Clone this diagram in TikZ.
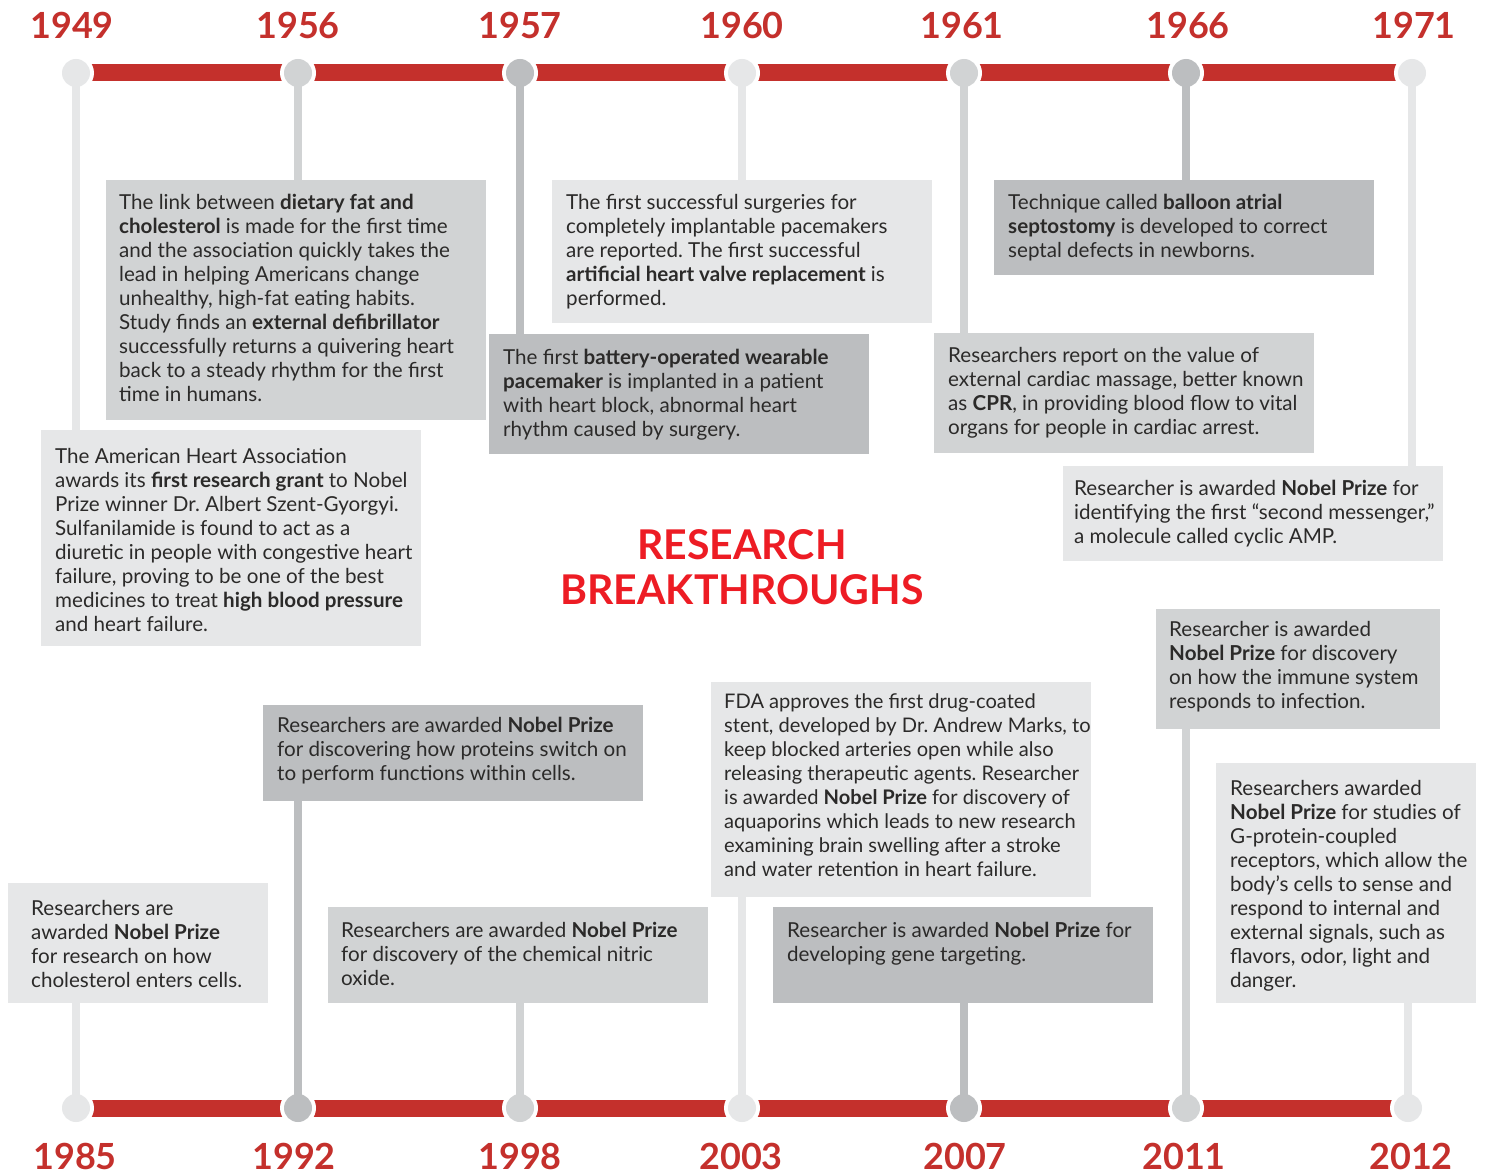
\documentclass[tikz,border=0pt]{standalone}
\usepackage{fontspec}
\setmainfont{Lato}
\frenchspacing
\definecolor{gA}{HTML}{E6E7E8}
\definecolor{gB}{HTML}{D1D3D4}
\definecolor{gC}{HTML}{BCBEC0}
\definecolor{barred}{HTML}{C4302C}
\definecolor{titlered}{HTML}{ED1C24}
\definecolor{ink}{HTML}{2B2A29}
\begin{document}
\begin{tikzpicture}[x=1pt,y=-1pt,
  bar/.style={barred, line width=17pt},
  stem/.style={line width=8pt},
  dot/.style={circle, inner sep=0pt, minimum size=28pt, draw=none},
  box/.style={rectangle, inner sep=0pt, draw=none, anchor=north west},
  txt/.style={anchor=north west, inner sep=0pt, align=left, text=ink,
              font=\fontsize{20.6}{24}\selectfont},
  year/.style={text=barred, font=\fontsize{36}{36}\selectfont\bfseries, inner sep=0pt},
  ttl/.style={text=titlered, font=\fontsize{41}{41}\selectfont\bfseries, inner sep=0pt}]
\useasboundingbox (0,0) rectangle (1488,1174);

% timeline positions
\coordinate (p1949) at (76,73);
\coordinate (p1956) at (298,73);
\coordinate (p1957) at (520,73);
\coordinate (p1960) at (742,73);
\coordinate (p1961) at (964,73);
\coordinate (p1966) at (1186,73);
\coordinate (p1971) at (1412,73);
\coordinate (p1985) at (76,1108);
\coordinate (p1992) at (298,1108);
\coordinate (p1998) at (520,1108);
\coordinate (p2003) at (742,1108);
\coordinate (p2007) at (964,1108);
\coordinate (p2011) at (1186,1108);
\coordinate (p2012) at (1408,1108);

% red bars
\draw[bar] (p1949) -- (p1971);
\draw[bar] (p1985) -- (p2012);
\foreach \p in {p1949,p1956,p1957,p1960,p1961,p1966,p1971,p1985,p1992,p1998,p2003,p2007,p2011,p2012}
  \fill[white] (\p) circle (18);

% boxes
\node[box, fill=gA, minimum width=380pt, minimum height=216pt] (b1949) at (41,430) {};
\node[box, fill=gB, minimum width=380pt, minimum height=240pt] (b1956) at (106,180) {};
\node[box, fill=gC, minimum width=380pt, minimum height=120pt] (b1957) at (489,334) {};
\node[box, fill=gA, minimum width=380pt, minimum height=143pt] (b1960) at (552,180) {};
\node[box, fill=gB, minimum width=380pt, minimum height=120pt] (b1961) at (934,333) {};
\node[box, fill=gC, minimum width=380pt, minimum height=95pt] (b1966) at (994,180) {};
\node[box, fill=gA, minimum width=380pt, minimum height=95pt] (b1971) at (1063,466) {};
\node[box, fill=gA, minimum width=260pt, minimum height=120pt] (b1985) at (8,883) {};
\node[box, fill=gC, minimum width=380pt, minimum height=96pt] (b1992) at (263,705) {};
\node[box, fill=gB, minimum width=380pt, minimum height=96pt] (b1998) at (328,907) {};
\node[box, fill=gA, minimum width=380pt, minimum height=215pt] (b2003) at (711,682) {};
\node[box, fill=gC, minimum width=380pt, minimum height=96pt] (b2007) at (773,907) {};
\node[box, fill=gB, minimum width=284pt, minimum height=120pt] (b2011) at (1156,609) {};
\node[box, fill=gA, minimum width=260pt, minimum height=240pt] (b2012) at (1216,763) {};

% stems
\draw[stem, gA] (p1949) -- (p1949 |- b1949.north);
\draw[stem, gB] (p1956) -- (p1956 |- b1956.north);
\draw[stem, gC] (p1957) -- (p1957 |- b1957.north);
\draw[stem, gA] (p1960) -- (p1960 |- b1960.north);
\draw[stem, gB] (p1961) -- (p1961 |- b1961.north);
\draw[stem, gC] (p1966) -- (p1966 |- b1966.north);
\draw[stem, gA] (p1971) -- (p1971 |- b1971.north);
\draw[stem, gA] (p1985) -- (p1985 |- b1985.south);
\draw[stem, gC] (p1992) -- (p1992 |- b1992.south);
\draw[stem, gB] (p1998) -- (p1998 |- b1998.south);
\draw[stem, gA] (p2003) -- (p2003 |- b2003.south);
\draw[stem, gC] (p2007) -- (p2007 |- b2007.south);
\draw[stem, gB] (p2011) -- (p2011 |- b2011.south);
\draw[stem, gA] (p2012) -- (p2012 |- b2012.south);

% dots
\node[dot, fill=gA] (c1949) at (p1949) {};
\node[dot, fill=gB] (c1956) at (p1956) {};
\node[dot, fill=gC] (c1957) at (p1957) {};
\node[dot, fill=gA] (c1960) at (p1960) {};
\node[dot, fill=gB] (c1961) at (p1961) {};
\node[dot, fill=gC] (c1966) at (p1966) {};
\node[dot, fill=gA] (c1971) at (p1971) {};
\node[dot, fill=gA] (c1985) at (p1985) {};
\node[dot, fill=gC] (c1992) at (p1992) {};
\node[dot, fill=gB] (c1998) at (p1998) {};
\node[dot, fill=gA] (c2003) at (p2003) {};
\node[dot, fill=gC] (c2007) at (p2007) {};
\node[dot, fill=gB] (c2011) at (p2011) {};
\node[dot, fill=gA] (c2012) at (p2012) {};

% years
\node[year] (y1949) at (72,25) {1949};
\node[year] (y1956) at (298,25) {1956};
\node[year] (y1957) at (520,25) {1957};
\node[year] (y1960) at (742,25) {1960};
\node[year] (y1961) at (962,25) {1961};
\node[year] (y1966) at (1188,25) {1966};
\node[year] (y1971) at (1414,25) {1971};
\node[year] (y1985) at (75,1156) {1985};
\node[year] (y1992) at (294,1156) {1992};
\node[year] (y1998) at (520,1156) {1998};
\node[year] (y2003) at (741,1156) {2003};
\node[year] (y2007) at (965,1156) {2007};
\node[year] (y2011) at (1184,1156) {2011};
\node[year] (y2012) at (1411,1156) {2012};

% title
\node[ttl] (title1) at (742,545) {RESEARCH};
\node[ttl] (title2) at (742,590) {BREAKTHROUGHS};

% texts
\node[txt] (t1949) at (55,448) {The American Heart Association\\
awards its \textbf{first research grant} to Nobel\\
Prize winner Dr. Albert Szent-Gyorgyi.\\
Sulfanilamide is found to act as a\\
diuretic in people with congestive heart\\
failure, proving to be one of the best\\
medicines to treat \textbf{high blood pressure}\\
and heart failure.};

\node[txt] (t1956) at (119,194) {The link between \textbf{dietary fat and}\\
\textbf{cholesterol} is made for the first time\\
and the association quickly takes the\\
lead in helping Americans change\\
unhealthy, high-fat eating habits.\\
Study finds an \textbf{external defibrillator}\\
successfully returns a quivering heart\\
back to a steady rhythm for the first\\
time in humans.};

\node[txt] (t1957) at (503,349) {The first \textbf{battery-operated wearable}\\
\textbf{pacemaker} is implanted in a patient\\
with heart block, abnormal heart\\
rhythm caused by surgery.};

\node[txt] (t1960) at (566,194) {The first successful surgeries for\\
completely implantable pacemakers\\
are reported. The first successful\\
\textbf{artificial heart valve replacement} is\\
performed.};

\node[txt] (t1961) at (948,347) {Researchers report on the value of\\
external cardiac massage, better known\\
as \textbf{CPR}, in providing blood flow to vital\\
organs for people in cardiac arrest.};

\node[txt] (t1966) at (1008,194) {Technique called \textbf{balloon atrial}\\
\textbf{septostomy} is developed to correct\\
septal defects in newborns.};

\node[txt] (t1971) at (1074,480) {Researcher is awarded \textbf{Nobel Prize} for\\
identifying the first “second messenger,”\\
a molecule called cyclic AMP.};

\node[txt] (t1985) at (31,900) {Researchers are\\
awarded \textbf{Nobel Prize}\\
for research on how\\
cholesterol enters cells.};

\node[txt] (t1992) at (277,717) {Researchers are awarded \textbf{Nobel Prize}\\
for discovering how proteins switch on\\
to perform functions within cells.};

\node[txt] (t1998) at (341,922) {Researchers are awarded \textbf{Nobel Prize}\\
for discovery of the chemical nitric\\
oxide.};

\node[txt, font=\fontsize{20.1}{24}\selectfont] (t2003) at (724,693) {FDA approves the first drug-coated\\
stent, developed by Dr. Andrew Marks, to\\
keep blocked arteries open while also\\
releasing therapeutic agents. Researcher\\
is awarded \textbf{Nobel Prize} for discovery of\\
aquaporins which leads to new research\\
examining brain swelling after a stroke\\
and water retention in heart failure.};

\node[txt] (t2007) at (787,922) {Researcher is awarded \textbf{Nobel Prize} for\\
developing gene targeting.};

\node[txt] (t2011) at (1169,621) {Researcher is awarded\\
\textbf{Nobel Prize} for discovery\\
on how the immune system\\
responds to infection.};

\node[txt] (t2012) at (1230,780) {Researchers awarded\\
\textbf{Nobel Prize} for studies of\\
G-protein-coupled\\
receptors, which allow the\\
body’s cells to sense and\\
respond to internal and\\
external signals, such as\\
flavors, odor, light and\\
danger.};
\end{tikzpicture}
\end{document}
